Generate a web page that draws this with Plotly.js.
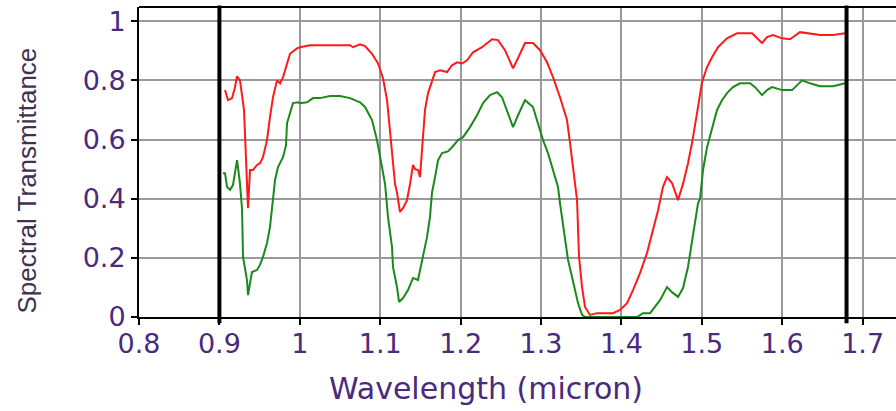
<!DOCTYPE html>
<html>
<head>
<meta charset="utf-8">
<script src="https://cdn.plot.ly/plotly-3.0.1.min.js"></script>
<style>
  html, body { margin: 0; padding: 0; background: #ffffff; }
  #chart { width: 896px; height: 411px; }
</style>
</head>
<body>
<div id="chart"></div>
<script>
// Spectral transmittance of two samples across the near-infrared band (micron)
const redWavelength = [
  0.9070, 0.9107, 0.9157, 0.9194, 0.9219, 0.9256, 0.9306, 0.9331, 0.9356, 0.9381,
  0.9418, 0.9468, 0.9505, 0.9542, 0.9592, 0.9629, 0.9667, 0.9716, 0.9754, 0.9791,
  0.9841, 0.9878, 0.9965, 1.0002, 1.0127, 1.0376, 1.0624, 1.0662, 1.0749, 1.0811,
  1.0898, 1.0973, 1.1035, 1.1085, 1.1122, 1.1159, 1.1184, 1.1209, 1.1246, 1.1284,
  1.1333, 1.1371, 1.1408, 1.1433, 1.1470, 1.1495, 1.1520, 1.1557, 1.1595, 1.1644,
  1.1682, 1.1744, 1.1831, 1.1893, 1.1955, 1.2017, 1.2080, 1.2154, 1.2266, 1.2391,
  1.2465, 1.2552, 1.2652, 1.2714, 1.2801, 1.2900, 1.2988, 1.3075, 1.3149, 1.3236,
  1.3323, 1.3361, 1.3398, 1.3448, 1.3473, 1.3510, 1.3547, 1.3609, 1.3697, 1.3896,
  1.3983, 1.4070, 1.4144, 1.4232, 1.4318, 1.4393, 1.4455, 1.4517, 1.4567, 1.4629,
  1.4704, 1.4766, 1.4828, 1.4878, 1.4915, 1.4953, 1.5002, 1.5065, 1.5127, 1.5201,
  1.5313, 1.5438, 1.5624, 1.5687, 1.5749, 1.5811, 1.5886, 1.5998, 1.6097, 1.6221,
  1.6321, 1.6470, 1.6632, 1.6781
];
const redTransmittance = [
  0.767, 0.733, 0.740, 0.777, 0.814, 0.800, 0.700, 0.500, 0.368, 0.497,
  0.497, 0.514, 0.520, 0.540, 0.598, 0.676, 0.743, 0.800, 0.790, 0.810,
  0.857, 0.890, 0.908, 0.912, 0.919, 0.919, 0.919, 0.912, 0.922, 0.916,
  0.890, 0.857, 0.807, 0.733, 0.620, 0.507, 0.450, 0.420, 0.355, 0.368,
  0.395, 0.450, 0.514, 0.500, 0.497, 0.473, 0.574, 0.700, 0.757, 0.800,
  0.828, 0.834, 0.828, 0.851, 0.861, 0.857, 0.868, 0.895, 0.912, 0.939,
  0.936, 0.902, 0.841, 0.875, 0.926, 0.926, 0.902, 0.861, 0.811, 0.743,
  0.666, 0.588, 0.507, 0.395, 0.203, 0.101, 0.034, 0.007, 0.013, 0.013,
  0.024, 0.047, 0.091, 0.149, 0.216, 0.294, 0.360, 0.440, 0.473, 0.453,
  0.395, 0.450, 0.520, 0.588, 0.642, 0.710, 0.794, 0.845, 0.878, 0.912,
  0.942, 0.959, 0.959, 0.942, 0.926, 0.946, 0.953, 0.942, 0.939, 0.963,
  0.959, 0.953, 0.953, 0.959
];

const greenWavelength = [
  0.9045, 0.9070, 0.9095, 0.9132, 0.9169, 0.9219, 0.9231, 0.9256, 0.9281, 0.9294,
  0.9343, 0.9356, 0.9381, 0.9405, 0.9468, 0.9505, 0.9542, 0.9592, 0.9629, 0.9667,
  0.9692, 0.9729, 0.9754, 0.9791, 0.9828, 0.9841, 0.9878, 0.9915, 0.9978, 1.0002,
  1.0090, 1.0164, 1.0251, 1.0376, 1.0500, 1.0624, 1.0749, 1.0811, 1.0898, 1.0960,
  1.1022, 1.1060, 1.1097, 1.1147, 1.1159, 1.1209, 1.1234, 1.1284, 1.1346, 1.1408,
  1.1470, 1.1532, 1.1582, 1.1619, 1.1644, 1.1682, 1.1719, 1.1769, 1.1843, 1.1893,
  1.1968, 1.2030, 1.2117, 1.2204, 1.2279, 1.2366, 1.2453, 1.2515, 1.2577, 1.2652,
  1.2714, 1.2801, 1.2900, 1.2963, 1.3025, 1.3087, 1.3149, 1.3211, 1.3236, 1.3274,
  1.3299, 1.3336, 1.3386, 1.3423, 1.3460, 1.3510, 1.3547, 1.4194, 1.4269, 1.4356,
  1.4418, 1.4480, 1.4567, 1.4629, 1.4704, 1.4766, 1.4828, 1.4878, 1.4915, 1.4953,
  1.4978, 1.5015, 1.5065, 1.5127, 1.5189, 1.5251, 1.5313, 1.5388, 1.5475, 1.5600,
  1.5662, 1.5749, 1.5811, 1.5873, 1.5998, 1.6122, 1.6184, 1.6247, 1.6346, 1.6470,
  1.6632, 1.6781
];
const greenTransmittance = [
  0.486, 0.486, 0.440, 0.430, 0.446, 0.530, 0.507, 0.450, 0.368, 0.203,
  0.125, 0.074, 0.115, 0.152, 0.159, 0.176, 0.203, 0.250, 0.304, 0.400,
  0.463, 0.507, 0.520, 0.540, 0.580, 0.655, 0.689, 0.723, 0.726, 0.723,
  0.726, 0.740, 0.740, 0.747, 0.747, 0.740, 0.726, 0.710, 0.666, 0.598,
  0.507, 0.450, 0.338, 0.236, 0.169, 0.101, 0.051, 0.064, 0.091, 0.132,
  0.125, 0.203, 0.270, 0.338, 0.420, 0.473, 0.530, 0.554, 0.560, 0.574,
  0.598, 0.608, 0.642, 0.682, 0.723, 0.750, 0.760, 0.743, 0.700, 0.642,
  0.682, 0.733, 0.710, 0.655, 0.598, 0.554, 0.497, 0.440, 0.385, 0.318,
  0.270, 0.193, 0.135, 0.091, 0.047, 0.007, 0.000, 0.000, 0.013, 0.013,
  0.034, 0.057, 0.101, 0.084, 0.068, 0.098, 0.169, 0.260, 0.328, 0.385,
  0.400, 0.497, 0.574, 0.642, 0.700, 0.733, 0.757, 0.777, 0.790, 0.790,
  0.777, 0.750, 0.767, 0.777, 0.767, 0.767, 0.784, 0.800, 0.790, 0.780,
  0.780, 0.790
];

// Band limits marked with heavy vertical rules
const bandLimits = [0.9, 1.68];

const xTickValues = [0.8, 0.9, 1.0, 1.1, 1.2, 1.3, 1.4, 1.5, 1.6, 1.7];
const xTickLabels = ["0.8", "0.9", "1", "1.1", "1.2", "1.3", "1.4", "1.5", "1.6", "1.7"];
const yTickValues = [0, 0.2, 0.4, 0.6, 0.8, 1.0];
const yTickLabels = ["0", "0.2", "0.4", "0.6", "0.8", "1"];

const labelColor = "#4a2a7c";
const tickFont = { family: "DejaVu Sans", size: 27, color: labelColor };

const traces = [
  {
    x: redWavelength, y: redTransmittance, type: "scatter", mode: "lines",
    line: { color: "#ff1a1a", width: 2 }, hoverinfo: "x+y"
  },
  {
    x: greenWavelength, y: greenTransmittance, type: "scatter", mode: "lines",
    line: { color: "#1a8a1a", width: 2 }, hoverinfo: "x+y"
  }
];

const shapes = bandLimits.map(v => ({
  type: "line", xref: "x", yref: "paper", x0: v, x1: v, y0: -0.02, y1: 1.005,
  line: { color: "#000000", width: 4 }, layer: "above"
}));
// top frame line
shapes.push({
  type: "line", xref: "paper", yref: "paper", x0: 0, x1: 1, y0: 1, y1: 1,
  line: { color: "#000000", width: 2 }, layer: "above"
});

const layout = {
  width: 896, height: 411,
  margin: { l: 139, r: 0, t: 7, b: 94, pad: 0 },
  paper_bgcolor: "#ffffff", plot_bgcolor: "#ffffff",
  showlegend: false,
  xaxis: {
    range: [0.8, 1.7415], tickmode: "array", tickvals: xTickValues, ticktext: xTickLabels,
    showgrid: true, gridcolor: "#9a9a9a", gridwidth: 2,
    showline: true, linecolor: "#000000", linewidth: 2,
    ticks: "outside", ticklen: 6, tickwidth: 2, tickcolor: "#000000",
    ticklabelstandoff: -4,
    tickfont: tickFont, zeroline: false, fixedrange: true
  },
  yaxis: {
    range: [0, 1.048], tickmode: "array", tickvals: yTickValues, ticktext: yTickLabels,
    showgrid: true, gridcolor: "#9a9a9a", gridwidth: 2,
    showline: true, linecolor: "#000000", linewidth: 2,
    ticks: "outside", ticklen: 6, tickwidth: 2, tickcolor: "#000000",
    tickfont: tickFont, zeroline: false, fixedrange: true
  },
  shapes: shapes,
  annotations: [
    {
      text: "Wavelength (micron)", xref: "paper", yref: "paper",
      x: 0.458, y: -0.232, xanchor: "center", yanchor: "middle", showarrow: false,
      font: { family: "DejaVu Sans", size: 30, color: labelColor }
    },
    {
      text: "Spectral Transmittance", xref: "paper", yref: "paper",
      x: -0.148, y: 0.44, xanchor: "center", yanchor: "middle", showarrow: false,
      textangle: -90,
      font: { family: "Liberation Sans", size: 26, color: "#3d3350" }
    }
  ]
};

Plotly.newPlot("chart", traces, layout, { displayModeBar: false, staticPlot: true });
</script>
</body>
</html>
